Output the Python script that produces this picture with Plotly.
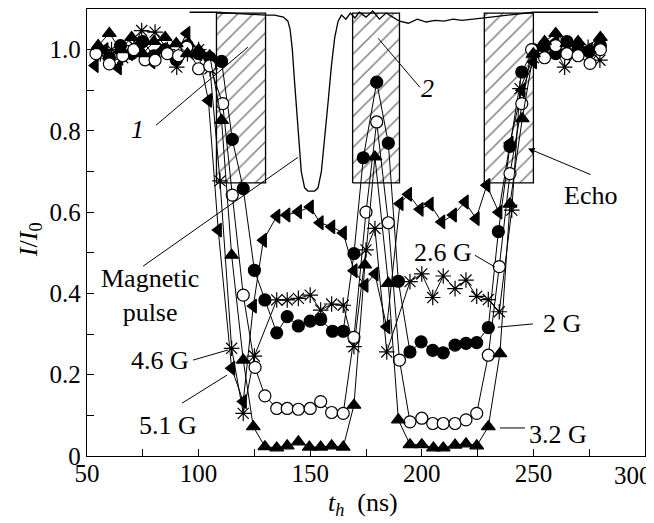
import plotly.graph_objects as go

# ---------------- data ----------------
t_32 = [55, 60, 65, 70, 75, 80, 85, 90, 95, 100, 105, 110.3, 114.8, 120, 124.5, 129.7, 135, 139.7, 144.7, 149.6,
        154.7, 159.6, 164.8, 169.6, 174.5, 179, 185, 189.5, 194.7, 200, 205.2, 209.6, 214.9, 219.8, 224.6, 229.8,
        235, 239.5, 245, 250, 255, 260, 265, 270, 275, 280]
v_32 = [1.01, 1.04, 1.0, 1.03, 0.99, 1.02, 1.03, 1.015, 0.99, 1.0, 0.985, 0.826, 0.494, 0.236, 0.072, 0.023, 0.02,
        0.025, 0.035, 0.022, 0.022, 0.025, 0.022, 0.125, 0.47, 0.736, 0.425, 0.089, 0.028, 0.028, 0.02, 0.02, 0.027,
        0.03, 0.025, 0.072, 0.252, 0.62, 0.83, 0.99, 1.02, 1.04, 1.015, 1.02, 1.0, 1.03]

t_26 = [54, 60, 66, 71, 76, 80.5, 86, 91, 94.7, 100, 105, 110.8, 115.1, 120, 125.3, 129.7, 135, 139.7, 144.7, 150,
        154.7, 159.6, 164.8, 169.6, 175, 179.8, 185, 190, 194.7, 200, 204.9, 209.6, 214.9, 219.8, 224.6, 229.8,
        234.7, 239.5, 244.8, 249.2, 255, 260, 265, 270, 275.4, 280]
v_26 = [0.99, 0.965, 0.985, 1.0, 0.975, 0.974, 0.99, 0.985, 1.006, 0.953, 0.96, 0.867, 0.642, 0.396, 0.218, 0.148,
        0.117, 0.117, 0.115, 0.117, 0.134, 0.107, 0.105, 0.292, 0.60, 0.822, 0.574, 0.236, 0.084, 0.093, 0.08, 0.08,
        0.08, 0.089, 0.105, 0.248, 0.466, 0.695, 0.867, 1.0, 0.98, 1.01, 0.99, 0.985, 0.966, 1.0]

t_2 = [55, 60, 65, 70, 75, 80, 85, 90, 95, 100, 105, 110.3, 115.1, 120, 125, 129.7, 135, 139.7, 144.7, 150, 154.7,
       160, 164.8, 169.6, 173.8, 179.8, 185, 189.5, 194.7, 199.7, 204.9, 209.6, 214.9, 219.8, 224.6, 229.8, 234.3,
       239.5, 244.8, 250, 255, 260, 265, 270, 275, 280]
v_2 = [1.0, 0.98, 1.01, 0.99, 1.02, 0.985, 1.0, 0.975, 1.01, 0.99, 0.98, 0.971, 0.779, 0.658, 0.457, 0.384, 0.303,
       0.343, 0.32, 0.332, 0.336, 0.307, 0.307, 0.498, 0.734, 0.92, 0.77, 0.43, 0.256, 0.281, 0.26, 0.254, 0.273,
       0.277, 0.279, 0.316, 0.552, 0.762, 0.945, 1.0, 1.01, 0.99, 1.02, 1.0, 0.995, 1.01]

t_46 = [56, 61, 66, 71, 74.5, 80.5, 86, 90.2, 95, 100, 105.1, 109.6, 114.8, 120, 125, 135, 139.7, 144.7, 150, 154.7,
        159.6, 164.8, 169.6, 175, 179, 184.3, 194.7, 200, 204.9, 209.6, 214.9, 219.8, 224.6, 229.8, 234.7, 240.3,
        244, 250, 255.2, 260, 264, 269, 274.5, 279.8]
v_46 = [0.99, 1.0, 0.98, 1.01, 1.047, 1.043, 1.0, 0.957, 0.99, 1.0, 0.953, 0.677, 0.265, 0.105, 0.246, 0.384, 0.384,
        0.388, 0.396, 0.359, 0.374, 0.371, 0.269, 0.507, 0.56, 0.256, 0.429, 0.448, 0.39, 0.443, 0.412, 0.433, 0.393,
        0.385, 0.355, 0.605, 0.904, 0.98, 0.99, 1.0, 0.957, 0.99, 1.006, 0.974]

t_51 = [53.6, 58, 64, 69, 74, 79, 84, 89, 94.7, 100, 104.4, 108.8, 114.8, 120, 124.5, 129, 135, 139.5, 144.7, 150,
        154.4, 159.6, 164.8, 169.6, 174.5, 179, 184.3, 190.2, 194, 199.2, 203.7, 208.9, 214.1, 219.4, 224.3, 229.1,
        234.5, 239.5, 244.8, 250, 255, 260, 265, 270, 275, 280]
v_51 = [0.961, 1.0, 0.955, 0.99, 1.01, 0.97, 1.0, 0.98, 1.04, 0.99, 0.875, 0.556, 0.216, 0.134, 0.369, 0.531, 0.59,
        0.593, 0.601, 0.613, 0.574, 0.564, 0.549, 0.456, 0.42, 0.448, 0.318, 0.621, 0.644, 0.607, 0.62, 0.576, 0.593,
        0.625, 0.584, 0.666, 0.6, 0.77, 0.9, 0.97, 1.0, 1.02, 0.99, 1.01, 1.0, 1.02]

# magnetic pulse trace (curve 1)
pulse_t = [96, 108, 130, 134, 138, 140, 141, 142, 143, 144, 145, 146, 147.5, 149, 152, 153.5, 155, 156.5, 158, 159.5,
           161, 162.5, 164, 166, 168, 170, 172, 175, 178, 181, 184, 187, 190, 194, 198, 202, 206, 210, 214, 218, 222,
           226, 228, 250, 279]
pulse_v = [1.092, 1.092, 1.085, 1.085, 1.08, 1.07, 1.05, 1.0, 0.92, 0.84, 0.76, 0.7, 0.66, 0.652, 0.652, 0.66, 0.7,
           0.78, 0.87, 0.96, 1.03, 1.07, 1.085, 1.075, 1.09, 1.078, 1.092, 1.08, 1.095, 1.075, 1.09, 1.08, 1.07,
           1.065, 1.075, 1.068, 1.072, 1.07, 1.075, 1.072, 1.075, 1.078, 1.078, 1.092, 1.092]

# echo windows (hatched)
echo_start = [108, 169, 228]
echo_end = [130, 190, 250]
echo_low = 0.672
echo_high = 1.09

x_ticks = [50, 100, 150, 200, 250, 300]
y_ticks = [0, 0.2, 0.4, 0.6, 0.8, 1.0]
y_ticktext = ["0", "0.2", "0.4", "0.6", "0.8", "1.0"]

FONT = "Liberation Serif"
fig = go.Figure()

# hatched echo rectangles
for a, b in zip(echo_start, echo_end):
    fig.add_trace(go.Scatter(
        x=[a, b, b, a, a], y=[echo_low, echo_low, echo_high, echo_high, echo_low],
        mode="lines", fill="toself", fillcolor="rgba(0,0,0,0)",
        fillpattern=dict(shape="/", fgcolor="black", bgcolor="rgba(0,0,0,0)", size=11, solidity=0.14),
        line=dict(color="black", width=1.3), showlegend=False, hoverinfo="skip"))

# pulse curve
fig.add_trace(go.Scatter(x=pulse_t, y=pulse_v, mode="lines", line=dict(color="black", width=1.3),
                         showlegend=False))

def series(t, v, symbol, fill, size=12, lw=1.2):
    fig.add_trace(go.Scatter(
        x=t, y=v, mode="lines+markers",
        line=dict(color="black", width=1),
        marker=dict(symbol=symbol, size=size, color=fill, line=dict(color="black", width=lw)),
        showlegend=False))

series(t_46, v_46, "asterisk-open", "black", size=13, lw=1.2)
series(t_51, v_51, "triangle-left", "black", size=12)
series(t_2, v_2, "circle", "black", size=12)
series(t_26, v_26, "circle", "white", size=12)
series(t_32, v_32, "triangle-up", "black", size=12)

# pointer lines
pointer_lines = [
    (80.9, 0.814, 122.1, 1.006),   # 1
    (199.2, 0.907, 180.4, 1.028),  # 2
    (75.1, 0.467, 144.5, 0.735),   # magnetic pulse
    (97.5, 0.236, 113.2, 0.261),   # 4.6 G
    (92.6, 0.130, 112.7, 0.199),   # 5.1 G
    (223.8, 0.494, 232.8, 0.465),  # 2.6 G
    (234.1, 0.317, 249.8, 0.325),  # 2 G
    (235.0, 0.069, 246.2, 0.069),  # 3.2 G
]
for x0, y0, x1, y1 in pointer_lines:
    fig.add_shape(type="line", x0=x0, y0=y0, x1=x1, y1=y1, xref="x", yref="y",
                  line=dict(color="black", width=1))

# echo arrow
fig.add_annotation(x=247.6, y=0.757, ax=276.3, ay=0.691, axref="x", ayref="y", xref="x", yref="y",
                   text="", showarrow=True, arrowhead=2, arrowsize=1.3, arrowwidth=1, arrowcolor="black")

labels = [
    ("<i>1</i>", 72.4, 0.804),
    ("<i>2</i>", 202.5, 0.905),
    ("Echo", 275.4, 0.642),
    ("Magnetic<br>pulse", 78.2, 0.395),
    ("4.6 G", 82.7, 0.236),
    ("5.1 G", 86.3, 0.076),
    ("2.6 G", 209.5, 0.502),
    ("2 G", 262.8, 0.327),
    ("3.2 G", 261.0, 0.052),
]
for txt, x, y in labels:
    fig.add_annotation(x=x, y=y, xref="x", yref="y", text=txt, showarrow=False,
                       font=dict(family=FONT, size=26, color="black"), align="center",
                       xanchor="center", yanchor="middle")

# last x tick label (would overflow the page if centred on its tick)
fig.add_annotation(x=x_ticks[-1], y=0, xref="x", yref="paper", text=str(x_ticks[-1]), showarrow=False,
                   xanchor="right", yanchor="top", xshift=9, yshift=-4,
                   font=dict(family=FONT, size=25, color="black"))

# axis titles
fig.add_annotation(x=-0.102, y=0.483, xref="paper", yref="paper", text="<i>I</i>/<i>I</i><sub>0</sub>",
                   textangle=-90, showarrow=False, font=dict(family=FONT, size=26, color="black"),
                   xanchor="center", yanchor="middle")
fig.add_annotation(x=0.495, y=-0.107, xref="paper", yref="paper", text="<i>t<sub>h</sub></i>  (ns)",
                   showarrow=False, font=dict(family=FONT, size=26, color="black"),
                   xanchor="center", yanchor="middle")

axis_common = dict(showline=True, linecolor="black", linewidth=1.3, mirror=True, showgrid=False,
                   zeroline=False, ticks="inside", ticklen=7, tickwidth=1, tickcolor="black",
                   tickfont=dict(family=FONT, size=25, color="black"))
fig.update_xaxes(range=[50, 300], tickvals=x_ticks[:-1], ticklabelstandoff=-5,
                 minor=dict(tickvals=[75, 125, 175, 225, 275], ticks="inside", ticklen=7, tickcolor="black"),
                 **axis_common)
fig.update_yaxes(range=[0, 1.1], tickvals=y_ticks, ticktext=y_ticktext,
                 minor=dict(tickvals=[0.1, 0.3, 0.5, 0.7, 0.9], ticks="inside", ticklen=7, tickcolor="black"),
                 **axis_common)

# the page body has an 8px margin, so the figure is 8px smaller and margins shifted
fig.update_layout(width=646, height=515, margin=dict(l=79, r=9, t=1, b=67),
                  plot_bgcolor="white", paper_bgcolor="white", showlegend=False,
                  font=dict(family=FONT, color="black"))

fig.write_html("out.html")
